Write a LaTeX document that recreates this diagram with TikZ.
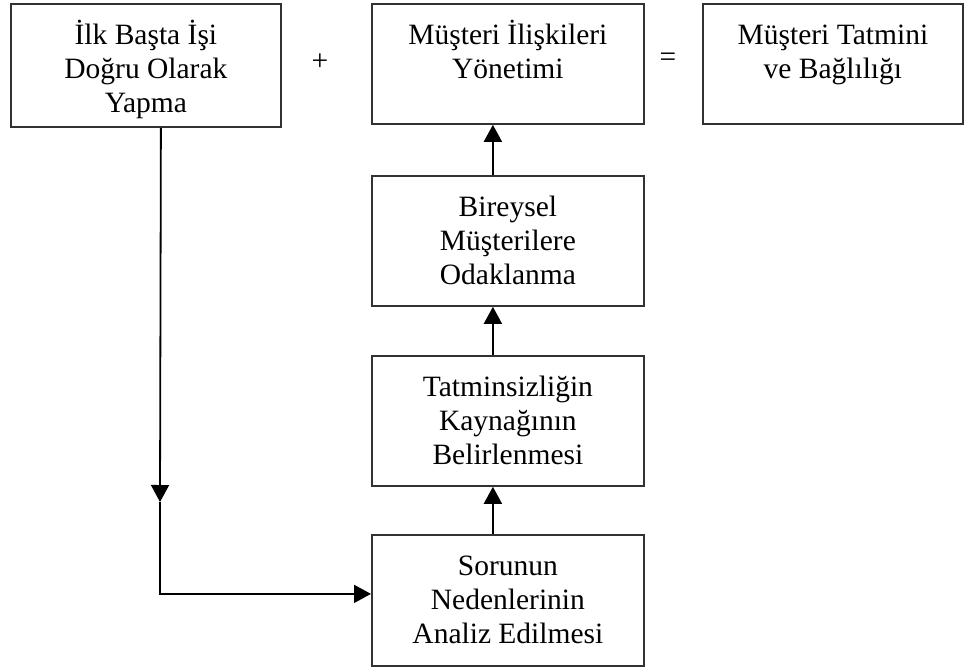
\documentclass[tikz,border=0pt]{standalone}
\usepackage{fontspec}
\setmainfont{Liberation Serif}
\usepackage{tikz}
\usetikzlibrary{arrows.meta,positioning,calc}
\definecolor{kutucizgi}{RGB}{50,50,50}
\newcommand{\kutuyazi}[3]{\begin{minipage}[t][#2][t]{#1}\centering\rule{0pt}{41pt}#3\end{minipage}}
\tikzset{
  kutu/.style={rectangle, draw=kutucizgi, line width=1.8pt, inner sep=0pt, anchor=north west},
  ok/.style={draw=black, line width=1.8pt, -{Triangle[length=17pt,width=18pt]}},
  isaret/.style={inner sep=0pt}
}

\begin{document}
\begin{tikzpicture}[x=1pt, y=-1pt, font=\fontsize{29.5}{34}\selectfont]
  \useasboundingbox (0,0) rectangle (967,667);
  % ust sira
  \node[kutu] (ilk) at (10,3) {\kutuyazi{270pt}{123pt}{İlk Başta İşi\\Doğru Olarak\\Yapma}};
  \node[isaret] (arti) at (320,62) {+};
  \node[kutu] (crm) at (371,3) {\kutuyazi{272pt}{120pt}{Müşteri İlişkileri\\Yönetimi}};
  \node[isaret] (esit) at (668,60) {=};
  \node[kutu] (tatmin) at (702,3) {\kutuyazi{260pt}{120pt}{Müşteri Tatmini\\ve Bağlılığı}};
  % orta sutun
  \node[kutu] (bireysel) at (371,175) {\kutuyazi{272pt}{130pt}{Bireysel\\Müşterilere\\Odaklanma}};
  \node[kutu] (kaynak) at (371,355) {\kutuyazi{272pt}{130pt}{Tatminsizliğin\\Kaynağının\\Belirlenmesi}};
  \node[kutu] (sorun) at (371,534) {\kutuyazi{272pt}{131pt}{Sorunun\\Nedenlerinin\\Analiz Edilmesi}};
  \coordinate (ara) at (160,502);
  % oklar
  \draw[ok] ([xshift=-15pt]bireysel.north) -- ([xshift=-15pt]crm.south);
  \draw[ok] ([xshift=-15pt]kaynak.north) -- ([xshift=-15pt]bireysel.south);
  \draw[ok] ([xshift=-15pt]sorun.north) -- ([xshift=-15pt]kaynak.south);
  \draw[ok] ([xshift=15pt]ilk.south) -- (ara);
  \draw[ok] (ara) |- ([yshift=6.5pt]sorun.west);
\end{tikzpicture}
\end{document}
